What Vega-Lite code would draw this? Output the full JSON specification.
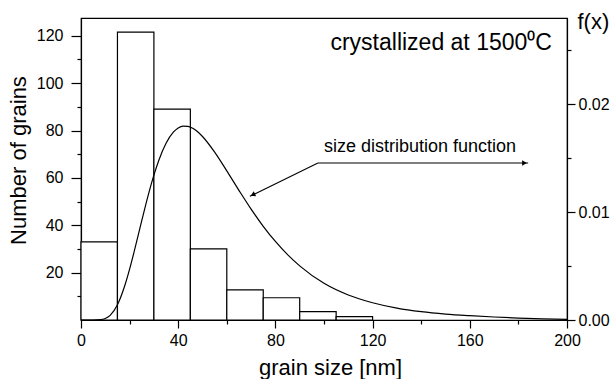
{
  "$schema": "https://vega.github.io/schema/vega-lite/v6.json",
  "width": 486,
  "height": 302,
  "autosize": "none",
  "padding": {"left": 81, "top": 18, "right": 47, "bottom": 59},
  "background": "white",
  "config": {
    "font": "Liberation Sans",
    "view": {"stroke": "black", "strokeWidth": 1.2},
    "axis": {
      "grid": false,
      "domainColor": "black",
      "domainWidth": 1.2,
      "tickColor": "black",
      "tickWidth": 1.2,
      "labelColor": "black",
      "titleColor": "black",
      "labelFont": "Liberation Sans",
      "titleFont": "Liberation Sans",
      "labelFontSize": 16,
      "titleFontSize": 22,
      "titleFontWeight": "normal",
      "labelOverlap": false,
      "labelFlush": false
    }
  },
  "resolve": {"scale": {"y": "independent"}},
  "layer": [
    {
      "data": {"values": [
        {"lo": 0, "hi": 15, "n": 33},
        {"lo": 15, "hi": 30, "n": 121.5},
        {"lo": 30, "hi": 45, "n": 89},
        {"lo": 45, "hi": 60, "n": 30},
        {"lo": 60, "hi": 75, "n": 12.7},
        {"lo": 75, "hi": 90, "n": 9.4},
        {"lo": 90, "hi": 105, "n": 3.5},
        {"lo": 105, "hi": 120, "n": 1.4}
      ]},
      "mark": {"type": "rect", "fill": "white", "stroke": "black", "strokeWidth": 1.2},
      "encoding": {
        "x": {
          "field": "lo", "type": "quantitative",
          "scale": {"domain": [0, 200], "nice": false, "zero": false},
          "axis": {
            "title": "grain size [nm]",
            "values": [0, 20, 40, 60, 80, 100, 120, 140, 160, 180, 200],
            "labelExpr": "datum.value % 40 === 0 ? datum.label : ''",
            "tickSize": {"condition": {"test": "datum.value % 40 === 0", "value": 8}, "value": 4},
            "labelPadding": 4,
            "titleX": 249,
            "titleY": 54,
            "titleBaseline": "alphabetic"
          }
        },
        "x2": {"field": "hi"},
        "y": {
          "field": "n", "type": "quantitative",
          "scale": {"domain": [0, 127.5], "nice": false},
          "axis": {
            "orient": "left",
            "title": "Number of grains",
            "values": [10, 20, 30, 40, 50, 60, 70, 80, 90, 100, 110, 120],
            "labelExpr": "datum.value % 20 === 0 ? datum.label : ''",
            "tickSize": {"condition": {"test": "datum.value % 20 === 0", "value": 10}, "value": 4},
            "labelPadding": 8,
            "titleX": -63,
            "titleY": 142,
            "titleAlign": "center",
            "titleBaseline": "middle"
          }
        },
        "y2": {"datum": 0}
      }
    },
    {
      "data": {"values": [
        {"xa": 97.5, "ya": 66.3, "xb": 184, "yb": 66.3},
        {"xa": 97.5, "ya": 66.3, "xb": 69.5, "yb": 52.2}
      ]},
      "mark": {"type": "rule", "color": "black", "strokeWidth": 1.1},
      "encoding": {
        "x": {"field": "xa", "type": "quantitative"},
        "x2": {"field": "xb"},
        "y": {"field": "ya", "type": "quantitative", "scale": {"domain": [0, 127.5], "nice": false}, "axis": null},
        "y2": {"field": "yb"}
      }
    },
    {
      "data": {"values": [{"xt": 182.5, "yt": 66.3}]},
      "mark": {"type": "point", "shape": "triangle-right", "filled": true, "color": "black", "size": 30, "opacity": 1},
      "encoding": {
        "x": {"field": "xt", "type": "quantitative"},
        "y": {"field": "yt", "type": "quantitative", "scale": {"domain": [0, 127.5], "nice": false}, "axis": null}
      }
    },
    {
      "data": {"values": [{"xt": 71, "yt": 53}]},
      "mark": {"type": "point", "shape": "triangle", "angle": 244, "filled": true, "color": "black", "size": 30, "opacity": 1},
      "encoding": {
        "x": {"field": "xt", "type": "quantitative"},
        "y": {"field": "yt", "type": "quantitative", "scale": {"domain": [0, 127.5], "nice": false}, "axis": null}
      }
    },
    {
      "data": {"values": [
        {"xt": 193.8, "yt": 116.8, "label": "crystallized at 1500⁰C"}
      ]},
      "mark": {"type": "text", "align": "right", "baseline": "middle", "fontSize": 23, "font": "Liberation Sans", "color": "black"},
      "encoding": {
        "x": {"field": "xt", "type": "quantitative"},
        "y": {"field": "yt", "type": "quantitative", "scale": {"domain": [0, 127.5], "nice": false}, "axis": null},
        "text": {"field": "label"}
      }
    },
    {
      "data": {"values": [
        {"xt": 139.5, "yt": 73, "label": "size distribution function"}
      ]},
      "mark": {"type": "text", "align": "center", "baseline": "middle", "fontSize": 18, "font": "Liberation Sans", "color": "black"},
      "encoding": {
        "x": {"field": "xt", "type": "quantitative"},
        "y": {"field": "yt", "type": "quantitative", "scale": {"domain": [0, 127.5], "nice": false}, "axis": null},
        "text": {"field": "label"}
      }
    },
    {
      "data": {"values": [
        {"x": 0, "f": 0}, {"x": 5, "f": 0}, {"x": 8, "f": 0.00003}, {"x": 10, "f": 0.00014},
        {"x": 12, "f": 0.00043}, {"x": 15, "f": 0.00141}, {"x": 18, "f": 0.00317}, {"x": 20, "f": 0.00471},
        {"x": 22, "f": 0.00645}, {"x": 25, "f": 0.00921}, {"x": 28, "f": 0.01186}, {"x": 30, "f": 0.01343},
        {"x": 32, "f": 0.01479}, {"x": 35, "f": 0.01638}, {"x": 38, "f": 0.01741}, {"x": 40, "f": 0.0178},
        {"x": 42, "f": 0.01797}, {"x": 44, "f": 0.01796}, {"x": 46, "f": 0.01777}, {"x": 48, "f": 0.01745},
        {"x": 50, "f": 0.01701}, {"x": 55, "f": 0.01556}, {"x": 60, "f": 0.01382}, {"x": 65, "f": 0.01202},
        {"x": 70, "f": 0.01028}, {"x": 75, "f": 0.00869}, {"x": 80, "f": 0.00728}, {"x": 85, "f": 0.00606},
        {"x": 90, "f": 0.00502}, {"x": 100, "f": 0.0034}, {"x": 110, "f": 0.00232}, {"x": 120, "f": 0.0016},
        {"x": 130, "f": 0.0011}, {"x": 140, "f": 0.00077}, {"x": 150, "f": 0.00055}, {"x": 160, "f": 0.0004},
        {"x": 170, "f": 0.00028}, {"x": 180, "f": 0.00018}, {"x": 190, "f": 0.0001}, {"x": 200, "f": 0.00005}
      ]},
      "mark": {"type": "line", "color": "black", "strokeWidth": 1.2, "interpolate": "monotone"},
      "encoding": {
        "x": {"field": "x", "type": "quantitative"},
        "y": {
          "field": "f", "type": "quantitative",
          "scale": {"domain": [0, 0.028], "nice": false},
          "axis": {
            "orient": "right",
            "title": "f(x)",
            "values": [0, 0.005, 0.01, 0.015, 0.02, 0.025],
            "labelExpr": "round(datum.value * 1000) % 10 === 0 ? format(datum.value, '.2f') : ''",
            "tickSize": {"condition": {"test": "round(datum.value * 1000) % 10 === 0", "value": 8}, "value": 4},
            "labelPadding": 3,
            "titleAngle": 0,
            "titleX": 10,
            "titleY": 3,
            "titleAlign": "left",
            "titleBaseline": "middle"
          }
        }
      }
    }
  ]
}
